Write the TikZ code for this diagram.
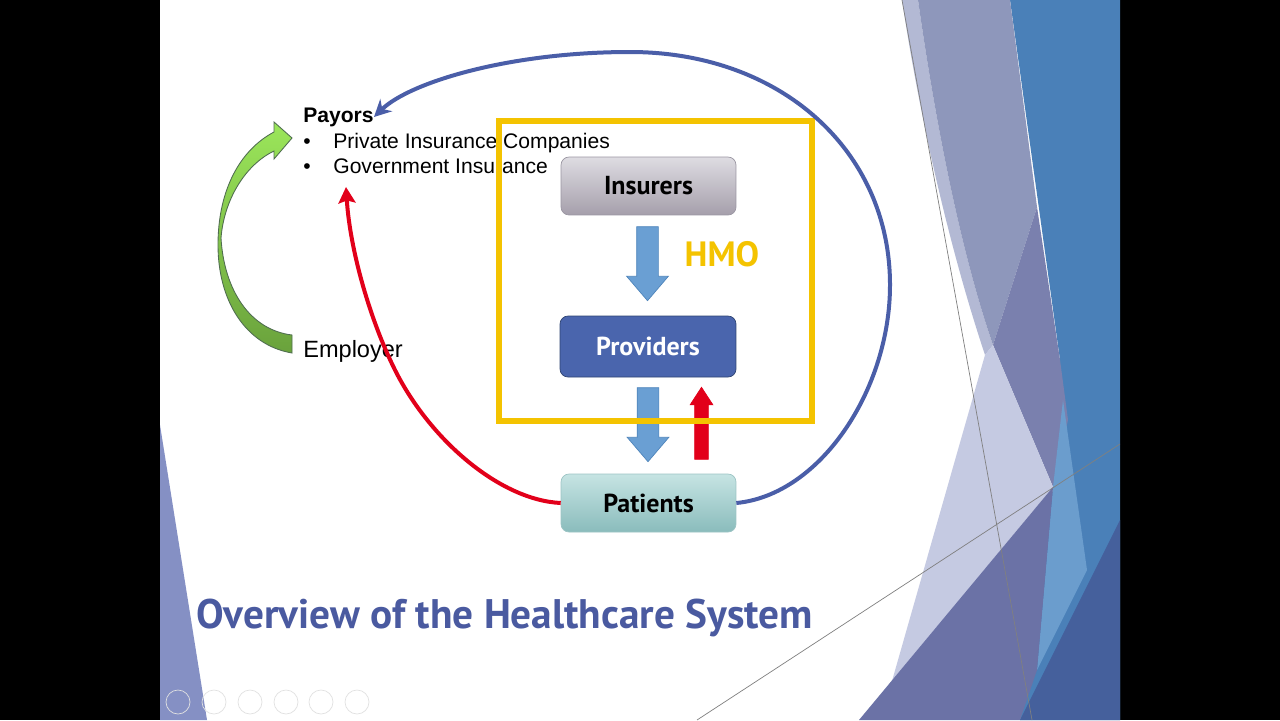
\documentclass[tikz,border=0pt]{standalone}
\usepackage{fontspec}
\setmainfont{Liberation Sans}
\newfontfamily\boxfont{PT Sans}
\usetikzlibrary{arrows.meta,shapes.arrows,calc}

\definecolor{hmoyellow}{HTML}{F4C300}
\definecolor{titleblue}{HTML}{4A5AA0}
\definecolor{instop}{HTML}{DEDCE2}
\definecolor{insbot}{HTML}{A59FAB}
\definecolor{insline}{HTML}{9A96A2}
\definecolor{provfill}{HTML}{4A65AD}
\definecolor{provline}{HTML}{2E4473}
\definecolor{pattop}{HTML}{C6E4E3}
\definecolor{patbot}{HTML}{8ABCBC}
\definecolor{patline}{HTML}{9CC4C4}
\definecolor{arrowblue}{HTML}{6A9FD3}
\definecolor{arrowline}{HTML}{4F85BB}
\definecolor{flowred}{HTML}{E2001A}
\definecolor{flowblue}{HTML}{4A5EA8}
\definecolor{greentop}{HTML}{9BE65A}
\definecolor{greenbot}{HTML}{6AA23C}

\begin{document}
\begin{tikzpicture}[x=0.02cm,y=-0.02cm,
	box/.style={draw, rounded corners=0.16cm, minimum width=3.5cm, minimum height=1.16cm,
		font=\boxfont\bfseries\fontsize{14.8}{17}\selectfont},
	blockarrow/.style={single arrow, fill=arrowblue, draw=arrowline, minimum height=1.48cm,
		inner sep=0.21cm, single arrow head extend=0.2cm, single arrow tip angle=81, anchor=tail},
	redarrow/.style={single arrow, fill=flowred, draw=flowred, minimum height=1.44cm,
		inner sep=0.13cm, single arrow head extend=0.09cm, single arrow tip angle=66, anchor=tail},
	bodytext/.style={anchor=base west, inner sep=0, font=\fontsize{12}{14}\selectfont}]

	\useasboundingbox (0,0) rectangle (1280,720);

	% slide and its background
	\fill[black] (0,0) rectangle (1280,720);
	\fill[white] (160,0) rectangle (1120,720);

	\fill[color={rgb,255:red,133;green,144;blue,196}] (160,425) -- (207,720) -- (160,720) -- cycle;

	\fill[color={rgb,255:red,74;green,128;blue,184}] (1010,0) -- (1120,0) -- (1120,720) -- (1020,720) -- (1053,487) -- (1060,360) -- cycle;
	\fill[color={rgb,255:red,179;green,185;blue,212}] (902,0) -- (918,0) .. controls (935,120) and (960,250) .. (993,345) -- (985,355) .. controls (950,250) and (920,120) .. (902,0) -- cycle;
	\fill[color={rgb,255:red,142;green,151;blue,187}] (918,0) -- (1010,0) -- (1037,207) -- (993,345) .. controls (960,250) and (935,120) .. (918,0) -- cycle;
	\fill[color={rgb,255:red,122;green,128;blue,174}] (1037,207) -- (1060,360) -- (1068,420) -- (1053,487) -- (993,345) -- cycle;
	\fill[color={rgb,255:red,197;green,202;blue,226}] (985,355) -- (993,345) -- (1053,487) -- (892,681) -- cycle;
	\fill[color={rgb,255:red,107;green,157;blue,205}] (1063,400) -- (1087,570) -- (1037,670) -- (1053,487) -- cycle;
	\fill[color={rgb,255:red,107;green,114;blue,166}] (859,720) -- (1053,487) -- (1037,670) -- (1020,720) -- cycle;
	\fill[color={rgb,255:red,69;green,96;blue,156}] (1120,520) -- (1120,720) -- (1020,720) -- cycle;
	\draw[gray, line width=0.4pt] (902,0) -- (1032,720);
	\draw[gray, line width=0.4pt] (697,720) -- (1120,444);

	\foreach \x in {178,214,250,286,321,357}
		\draw[color={rgb,255:red,225;green,225;blue,225}, line width=0.4pt] (\x,702) circle (0.24cm);

	% payors and employer
	\node [name=payors, bodytext, font=\bfseries\fontsize{12}{14}\selectfont] at (303,122.5) {Payors};
	\node [name=dot1, bodytext] at (303,148.5) {\textbullet};
	\node [name=dot2, bodytext] at (303,173.5) {\textbullet};
	\node [name=private, bodytext] at (333,148.5) {Private Insurance Companies};
	\node [name=government, bodytext] at (333,173.5) {Government Insurance};
	\node [name=employer, bodytext, font=\fontsize{13.4}{16}\selectfont] at (303,357.5) {Employer};

	\coordinate (payin) at (374,117);
	\coordinate (govin) at (346,187);

	% the three parties
	\node [name=insurers, box, top color=instop, bottom color=insbot, draw=insline] at (648.5,186) {Insurers};
	\node [name=providers, box, fill=provfill, draw=provline, text=white,
		minimum width=3.52cm, minimum height=1.22cm] at (648,346.5) {Providers};
	\node [name=patients, box, top color=pattop, bottom color=patbot, draw=patline] at (648.5,503) {Patients};

	\node [name=flow1, blockarrow, rotate=-90] at ($(insurers.south)+(-1,11)$) {};
	\node [name=flow2, blockarrow, rotate=-90] at ($(providers.south)+(0,10)$) {};
	\node [name=claim, redarrow, rotate=90] at ($(patients.north)+(53,-14)$) {};

	\node [name=hmolabel, text=hmoyellow, font=\boxfont\bfseries\fontsize{20}{22}\selectfont] at (722,254) {HMO};
	\node [name=hmo, draw=hmoyellow, line width=0.12cm, minimum width=6.26cm, minimum height=6cm, inner sep=0] at (655.5,271) {};

	% money flows
	\shade[top color=greentop, bottom color=greenbot, draw={rgb,255:red,80;green,110;blue,80}, line width=0.5pt]
		(292,353) .. controls (245,345) and (218,300) .. (218,245) .. controls (218,190) and (240,150) .. (274,132)
		-- (274,122) -- (292,138) -- (274,159) -- (274,151)
		.. controls (245,165) and (224,200) .. (221,238) .. controls (224,290) and (250,330) .. (292,335) -- cycle;

	\draw[flowblue, line width=0.08cm, -{Stealth[length=0.34cm, width=0.34cm]}]
		(patients.east) .. controls (820,495) and (890,390) .. (890,285)
		.. controls (890,150) and (780,52) .. (630,52)
		.. controls (510,52) and (410,82) .. (payin);

	\draw[flowred, line width=0.08cm, -{Stealth[length=0.32cm, width=0.34cm, inset=0.05cm]}]
		(patients.west) .. controls (500,500) and (430,440) .. (395,370)
		.. controls (370,320) and (350,250) .. (govin);

	% title
	\node [name=title, anchor=base west, inner sep=0, text=titleblue, font=\boxfont\bfseries\fontsize{23.5}{28}\selectfont] at (196,628) {Overview of the Healthcare System};

\end{tikzpicture}
\end{document}
